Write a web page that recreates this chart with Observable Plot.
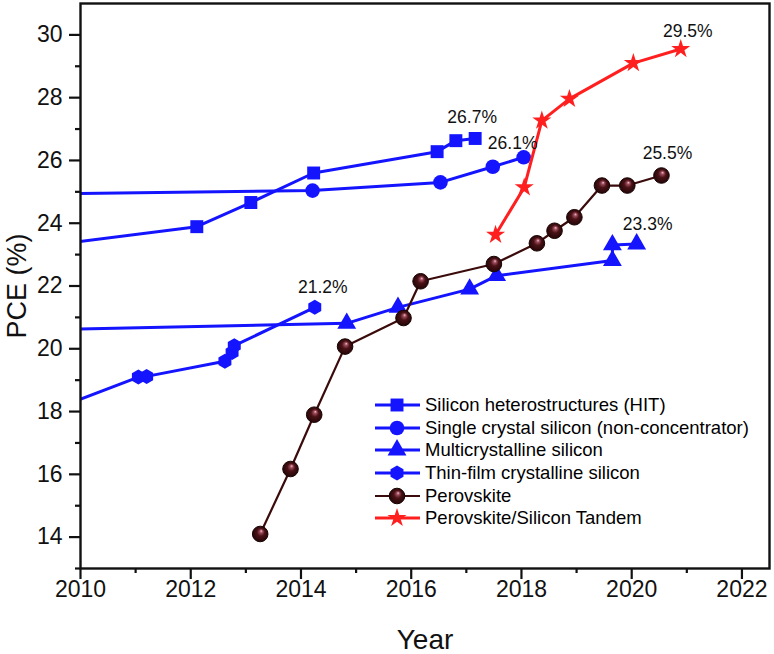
<!DOCTYPE html>
<html><head><meta charset="utf-8">
<script src="https://cdn.jsdelivr.net/npm/d3@7"></script>
<script src="https://cdn.jsdelivr.net/npm/@observablehq/plot@0.6"></script>
<style>
body{margin:0;background:#fff;}
#wrap{position:relative;width:774px;height:654px;font-family:"Liberation Sans",Arial,sans-serif;}
#legend{position:absolute;left:375px;top:393.6px;font-size:18.5px;color:#000;}
.row{display:flex;align-items:center;height:22.7px;white-space:nowrap;}
.row svg{margin-right:4px;overflow:visible;}
</style></head><body><div id="wrap"></div>
<script>
// ---- data ----
const hitYears = [2009.0, 2012.11, 2013.09, 2014.23, 2016.47, 2016.81, 2017.16];
const hitPCE   = [23.2, 23.89, 24.66, 25.6, 26.28, 26.63, 26.70];
const scYears  = [1999, 2014.21, 2016.53, 2017.48, 2018.04];
const scPCE    = [24.7, 25.04, 25.30, 25.80, 26.10];
const mcYears  = [2004, 2014.83, 2015.76, 2017.06, 2017.55, 2019.65, 2019.65, 2020.09];
const mcPCE    = [20.4, 20.81, 21.32, 21.9, 22.33, 22.81, 23.31, 23.34];
const tfYears  = [2008, 2011.05, 2011.2, 2012.62, 2012.75, 2012.79, 2014.25];
const tfPCE    = [17.05, 19.1, 19.12, 19.6, 19.88, 20.1, 21.32];
const pvYears  = [2013.26, 2013.81, 2014.24, 2014.8, 2015.86, 2016.17, 2017.5, 2018.28, 2018.6, 2018.96, 2019.46, 2019.92, 2020.54];
const pvPCE    = [14.1, 16.17, 17.9, 20.07, 20.98, 22.15, 22.7, 23.36, 23.76, 24.19, 25.2, 25.2, 25.52];
const tdYears  = [2017.53, 2018.05, 2018.37, 2018.87, 2020.03, 2020.89];
const tdPCE    = [23.63, 25.14, 27.27, 27.96, 29.1, 29.55];
const seriesNames = ["Silicon heterostructures (HIT)", "Single crystal silicon (non-concentrator)", "Multicrystalline silicon", "Thin-film crystalline silicon", "Perovskite", "Perovskite/Silicon Tandem"];
const recordLabels = ["26.7%", "26.1%", "23.3%", "21.2%", "25.5%", "29.5%"];
const xMajorTicks = [2010, 2012, 2014, 2016, 2018, 2020, 2022];
const xMinorTicks = [2011, 2013, 2015, 2017, 2019, 2021];
const yMajorTicks = [14, 16, 18, 20, 22, 24, 26, 28, 30];
const yMinorTicks = [13, 15, 17, 19, 21, 23, 25, 27, 29];

// ---- styles ----
const blue = "#1414ff", red = "#ff1f1f", brown = "#3b0b0b";
const hexagon = {draw(ctx, size) {
  const R = Math.sqrt(size / (3 * Math.sqrt(3) / 2));
  for (let i = 0; i < 6; i++) {
    const a = Math.PI / 3 * i - Math.PI / 2;
    const px = R * Math.cos(a), py = R * Math.sin(a);
    if (i) ctx.lineTo(px, py); else ctx.moveTo(px, py);
  }
  ctx.closePath();
}};
const rows = (xs, ys) => xs.map((x, i) => ({x, y: ys[i]}));
const series = [
  {name: seriesNames[0], data: rows(hitYears, hitPCE), stroke: blue, sw: 3, symbol: "square", r: 7.3, fill: blue, label: recordLabels[0], dx: -3, dy: -21},
  {name: seriesNames[1], data: rows(scYears, scPCE), stroke: blue, sw: 3, symbol: "circle", r: 7.3, fill: blue, label: recordLabels[1], dx: -11, dy: -14},
  {name: seriesNames[2], data: rows(mcYears, mcPCE), stroke: blue, sw: 3, symbol: "triangle", r: 7, fill: blue, label: recordLabels[2], dx: 11, dy: -20},
  {name: seriesNames[3], data: rows(tfYears, tfPCE), stroke: blue, sw: 3, symbol: hexagon, r: 6.8, fill: blue, label: recordLabels[3], dx: 8, dy: -20},
  {name: seriesNames[4], data: rows(pvYears, pvPCE), stroke: brown, sw: 2.2, symbol: "circle", r: 7.8, fill: "url(#sphere)", dotStroke: "#1a0303", label: recordLabels[4], dx: 6, dy: -22},
  {name: seriesNames[5], data: rows(tdYears, tdPCE), stroke: red, sw: 3, symbol: "star", r: 6, fill: red, label: recordLabels[5], dx: 7, dy: -18}
];

const marks = [
  Plot.axisX({ticks: xMajorTicks, tickSize: 11, tickPadding: 1, tickFormat: d => String(d), strokeWidth: 2.2, label: null}),
  Plot.axisX({ticks: xMinorTicks, tickSize: 5, text: null, strokeWidth: 2.2, label: null}),
  Plot.axisY({ticks: yMajorTicks, tickSize: 11, tickPadding: 7, tickFormat: d => String(d), strokeWidth: 2.2, label: null}),
  Plot.axisY({ticks: yMinorTicks, tickSize: 5, text: null, strokeWidth: 2.2, label: null}),
];
for (const s of series) {
  marks.push(Plot.line(s.data, {x: "x", y: "y", stroke: s.stroke, strokeWidth: s.sw, clip: true}));
  marks.push(Plot.dot(s.data, {x: "x", y: "y", symbol: s.symbol, r: s.r, fill: s.fill, stroke: s.dotStroke || "none", strokeWidth: 1, clip: true}));
}
for (const s of series) {
  marks.push(Plot.text(s.data.slice(-1), {x: "x", y: "y", text: () => s.label, dx: s.dx, dy: s.dy, fontSize: 17.5, fill: "#111"}));
}
marks.push(Plot.frame({stroke: "#111", strokeWidth: 2.4}));
marks.push(Plot.text(["Year"], {frameAnchor: "bottom", text: d => d, dy: 72, lineAnchor: "middle", fontSize: 28, fill: "#111"}));
marks.push(Plot.text(["PCE (%)"], {frameAnchor: "left", text: d => d, rotate: -90, dx: -63, textAnchor: "middle", lineAnchor: "middle", fontSize: 27, fill: "#111"}));

const chart = Plot.plot({
  width: 774, height: 654,
  marginLeft: 80, marginRight: 5, marginTop: 3, marginBottom: 86,
  x: {domain: [2010, 2022.5]},
  y: {domain: [13, 31]},
  style: {fontFamily: "Liberation Sans, Arial, sans-serif", fontSize: "23px", color: "#111", background: "#fff"},
  marks
});
const defs = d3.select(chart).insert("defs", ":first-child");
const g = defs.append("radialGradient").attr("id", "sphere").attr("cx", "0.5").attr("cy", "0.5").attr("r", "0.55").attr("fx", "0.58").attr("fy", "0.3");
g.append("stop").attr("offset", "0%").attr("stop-color", "#f0c0d0");
g.append("stop").attr("offset", "18%").attr("stop-color", "#9a4a5a");
g.append("stop").attr("offset", "45%").attr("stop-color", "#4a1216");
g.append("stop").attr("offset", "100%").attr("stop-color", "#1e0405");
const wrap = document.getElementById("wrap");
wrap.appendChild(chart);

// ---- legend ----
const legend = document.createElement("div");
legend.id = "legend";
for (const s of series) {
  const row = document.createElement("div");
  row.className = "row";
  const svg = d3.create("svg").attr("width", 46).attr("height", 22);
  svg.append("line").attr("x1", 0).attr("x2", 45).attr("y1", 11).attr("y2", 11).attr("stroke", s.stroke).attr("stroke-width", s.sw);
  const type = typeof s.symbol === "string" ? {square: d3.symbolSquare, circle: d3.symbolCircle, triangle: d3.symbolTriangle, star: d3.symbolStar}[s.symbol] : s.symbol;
  svg.append("path").attr("transform", "translate(22,11)").attr("d", d3.symbol(type, s.r * s.r * Math.PI)())
    .attr("fill", s.fill).attr("stroke", s.dotStroke || "none");
  row.appendChild(svg.node());
  const span = document.createElement("span");
  span.textContent = s.name;
  row.appendChild(span);
  legend.appendChild(row);
}
wrap.appendChild(legend);
</script></body></html>
